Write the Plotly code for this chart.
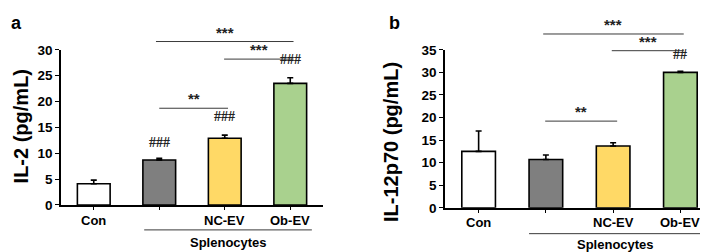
import plotly.graph_objects as go

categories = ["Con", "Splenocytes", "NC-EV", "Ob-EV"]
tick_labels = ["Con", "", "NC-EV", "Ob-EV"]
colors = ["#ffffff", "#7f7f7f", "#ffd966", "#a9d18e"]

il2_values = [4.1, 8.7, 12.9, 23.5]
il2_errors = [0.7, 0.3, 0.6, 1.1]
il2_hash = ["", "###", "###", "###"]

il12_values = [12.5, 10.7, 13.7, 30.0]
il12_errors = [4.5, 1.0, 0.7, 0.25]
il12_hash = ["", "", "", "##"]

W, H = 708, 252
FONT = "Liberation Sans, Arial, sans-serif"

panels = [
    dict(vals=il2_values, errs=il2_errors, hashes=il2_hash, ymax=30,
         xdom=[53 / W, 315 / W], ydom=[1 - 202 / H, 1 - 37 / H],
         title="IL-2 (pg/mL)", title_x=12.5, title_y=119, label="a", label_x=8,
         sigs=[(1.0, 2.05, 18.7, "**"), (0.95, 3.05, 31.6, "***"), (1.99, 3.05, 28.2, "***")],
         hash_off=[0, 1.5, 2.4, 2.7],
         xlab_y=218, spl=(0.77, 3.33, 228.5, 241.5, 2.05)),
    dict(vals=il12_values, errs=il12_errors, hashes=il12_hash, ymax=35,
         xdom=[437 / W, 706 / W], ydom=[1 - 205 / H, 1 - 37 / H],
         title="IL-12p70 (pg/mL)", title_x=383, title_y=135, label="b", label_x=386,
         sigs=[(0.99, 2.06, 19.2, "**"), (0.96, 3.05, 38.5, "***"), (1.98, 3.05, 34.8, "***")],
         hash_off=[0, 0, 0, 1.9],
         xlab_y=221, spl=(0.75, 3.31, 232.5, 243.5, 2.03)),
]

fig = go.Figure()
shapes = []
annotations = []

for i, p in enumerate(panels):
    ax = "" if i == 0 else str(i + 1)
    xa, ya = "x" + ax, "y" + ax
    fig.add_trace(go.Bar(
        x=list(range(4)), y=p["vals"], width=0.5,
        marker=dict(color=colors, line=dict(color="black", width=1.6)),
        error_y=dict(type="data", symmetric=False, array=p["errs"], arrayminus=[0] * 4,
                     color="black", thickness=1.6, width=3),
        xaxis=xa, yaxis=ya, showlegend=False, cliponaxis=False,
    ))
    layout_x = dict(domain=p["xdom"], range=[-0.5, 3.5], anchor=ya,
                    tickmode="array", tickvals=list(range(4)), showticklabels=False,
                    ticks="outside", ticklen=3, tickwidth=1, tickcolor="black",
                    showline=True, linecolor="black", linewidth=1.5,
                    showgrid=False, zeroline=False, fixedrange=True)
    layout_y = dict(domain=p["ydom"], range=[0, p["ymax"]], anchor=xa,
                    dtick=5, ticks="outside", ticklen=4, tickwidth=1, tickcolor="black",
                    showline=True, linecolor="black", linewidth=1.5,
                    tickfont=dict(family=FONT, size=13.5, color="black", weight="bold"),
                    showgrid=False, zeroline=False, fixedrange=True)
    fig.update_layout(**{"xaxis" + ax: layout_x, "yaxis" + ax: layout_y})

    def to_paper(v, p=p):
        return p["ydom"][0] + v / p["ymax"] * (p["ydom"][1] - p["ydom"][0])

    # category labels
    for k, t in enumerate(tick_labels):
        if t:
            annotations.append(dict(x=k, y=1 - p["xlab_y"] / H, xref=xa, yref="paper",
                                    text=t, showarrow=False, yanchor="middle",
                                    font=dict(family=FONT, size=13, color="black", weight="bold")))
    # significance lines
    for x0, x1, yv, txt in p["sigs"]:
        shapes.append(dict(type="line", xref=xa, yref="paper", x0=x0, x1=x1,
                           y0=to_paper(yv), y1=to_paper(yv),
                           line=dict(color="#3a3a3a", width=1)))
        annotations.append(dict(x=(x0 + x1) / 2, y=to_paper(yv), xref=xa, yref="paper",
                                text=txt, showarrow=False, yanchor="bottom", yshift=-1,
                                font=dict(family=FONT, size=15, color="#222", weight="bold")))
    # hash marks
    for k, h in enumerate(p["hashes"]):
        if h:
            annotations.append(dict(x=k, y=to_paper(p["vals"][k] + p["hash_off"][k]),
                                    xref=xa, yref="paper", text=h, showarrow=False,
                                    yanchor="bottom",
                                    font=dict(family="Liberation Serif, Times New Roman, serif",
                                              size=14, color="#222", weight="bold")))
    # Splenocytes bracket
    sx0, sx1, sly, sty, stx = p["spl"]
    shapes.append(dict(type="line", xref=xa, yref="paper", x0=sx0, x1=sx1,
                       y0=1 - sly / H, y1=1 - sly / H, line=dict(color="#3a3a3a", width=1)))
    annotations.append(dict(x=stx, y=1 - sty / H, xref=xa, yref="paper", text="Splenocytes",
                            showarrow=False, yanchor="middle",
                            font=dict(family=FONT, size=13, color="black", weight="bold")))
    # y title
    annotations.append(dict(x=p["title_x"] / W, y=1 - p["title_y"] / H, xref="paper", yref="paper",
                            text=p["title"], textangle=-90, showarrow=False,
                            xanchor="center", yanchor="middle",
                            font=dict(family=FONT, size=20, color="black", weight="bold")))
    # panel label
    annotations.append(dict(x=p["label_x"] / W, y=1 - 8 / H, xref="paper", yref="paper",
                            text=p["label"], showarrow=False, xanchor="center", yanchor="middle",
                            font=dict(family=FONT, size=18, color="black", weight="bold")))

fig.update_layout(width=W, height=H, margin=dict(l=0, r=0, t=0, b=0),
                  paper_bgcolor="white", plot_bgcolor="white",
                  shapes=shapes, annotations=annotations, bargap=0.5)
fig.write_html("out.html")
